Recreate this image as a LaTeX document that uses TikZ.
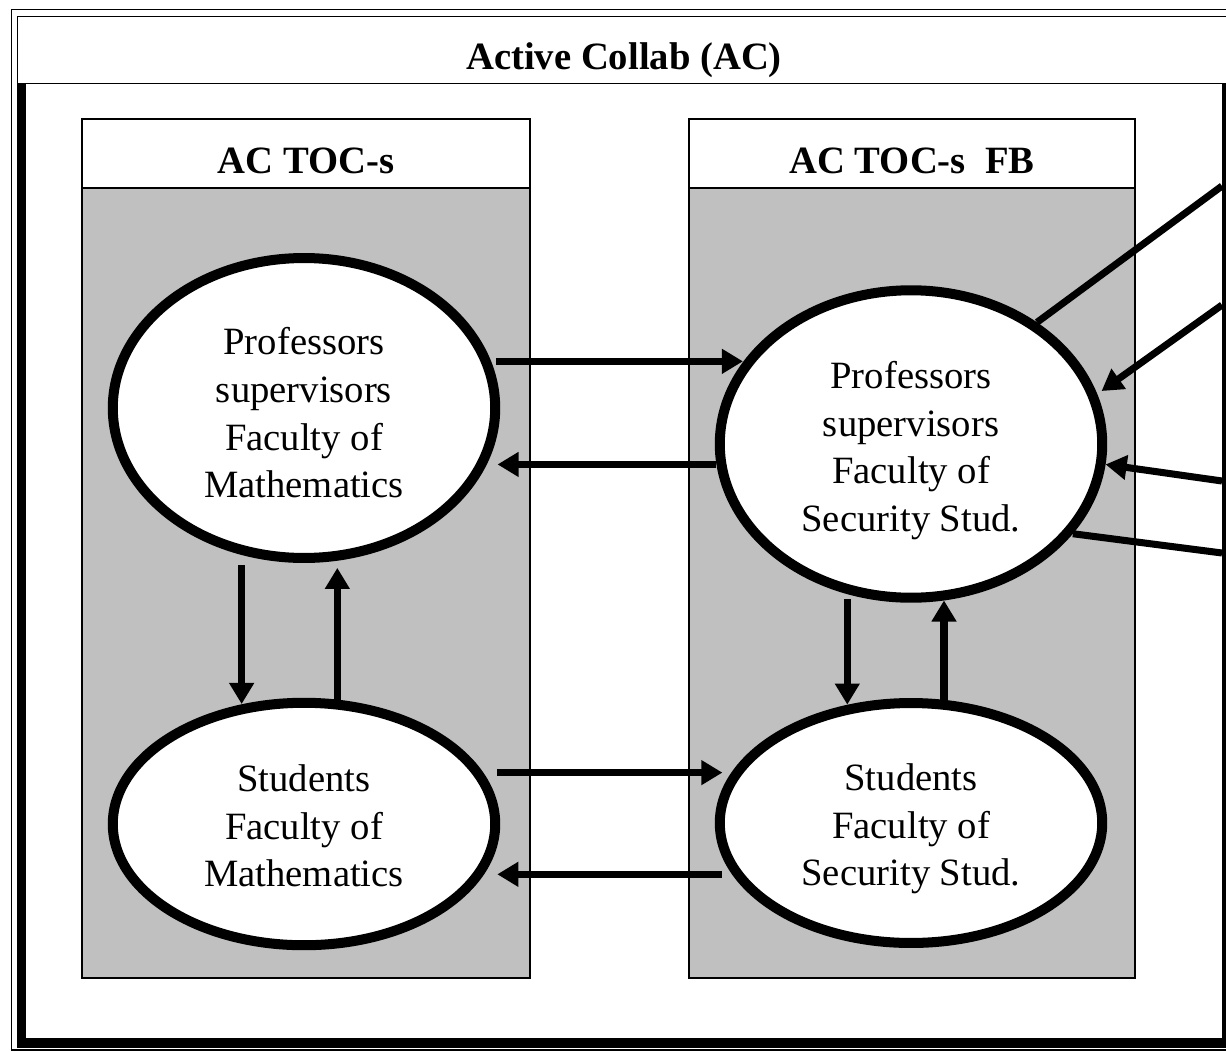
\documentclass[tikz,border=0pt]{standalone}
\usepackage{fontspec}
\setmainfont{Liberation Serif}
\usetikzlibrary{shapes.geometric,arrows.meta}
\definecolor{panelgrey}{RGB}{192,192,192}
\newcommand\lift[1]{\rule{0pt}{#1}}

\begin{document}
\begin{tikzpicture}[x=0.02cm,y=-0.02cm,
    thinline/.style={line width=0.8pt},
    panel/.style={draw,thinline,fill=panelgrey},
    header/.style={draw,thinline,fill=white},
    headtext/.style={anchor=base,font=\fontsize{22}{26}\selectfont\bfseries},
    party/.style={ellipse,draw,line width=5.7pt,fill=white,inner sep=0pt,
      minimum width=7.65cm,align=center,font=\fontsize{22}{27.2}\selectfont},
    arr/.style={line width=4.2pt,-{Triangle[length=12pt,width=13.5pt]}},
    link/.style={line width=4pt}]
  \clip (0,0) rectangle (1226,1051);
  \draw[thinline] (11.5,9.5) rectangle (1240,1050);
  \draw[thinline] (17.5,16.5) rectangle (1240,83.5);
  \node[headtext] (title) at (624,70) {Active Collab (AC)};

  \draw[panel] (82,119) rectangle (530,978);
  \draw[header] (82,119) rectangle (530,188);
  \node[headtext] (lhead) at (306,173) {AC TOC-s};
  \draw[panel] (689,119) rectangle (1135,978);
  \draw[header] (689,119) rectangle (1135,188);
  \node[headtext] (rhead) at (912,173) {AC TOC-s\ \ FB};

  \node[party,minimum height=6cm] (lp) at (304,408) {\lift{21pt}Professors\\supervisors\\Faculty of\\Mathematics};
  \node[party,minimum height=4.85cm] (ls) at (304,824) {\lift{17.5pt}Students\\Faculty of\\Mathematics};
  \node[party,minimum height=6.15cm] (rp) at (911,444) {\lift{23pt}Professors\\supervisors\\Faculty of\\Security Stud.};
  \node[party,minimum height=4.8cm] (rs) at (911,823) {\lift{22pt}Students\\Faculty of\\Security Stud.};

  \draw[arr,shorten <=3pt] (lp.14) -- (lp.14 -| rp.154);
  \draw[arr,shorten >=6pt] (rp.186) -- (rp.186 -| lp.-17);
  \draw[arr,shorten <=8pt,shorten >=5.5pt] (ls.16) -- (ls.16 -| rs.164);
  \draw[arr,shorten <=6pt,shorten >=8pt] (rs.196) -- (rs.196 -| ls.-16);
  \draw[arr,shorten <=6pt] (lp.-113) -- (lp.-113 |- ls.117);
  \draw[arr,shorten >=4pt] (ls.75) -- (ls.75 |- lp.-78);
  \draw[arr,shorten <=3pt] (rp.-113) -- (rp.-113 |- rs.118);
  \draw[arr] (rs.75) -- (rs.75 |- rp.-78);

  \coordinate (e1) at (1222,186);
  \coordinate (e2) at (1222,305);
  \coordinate (e3) at (1222,481);
  \coordinate (e4) at (1222,553);
  \draw[link] (rp.44) -- (e1);
  \draw[arr,line width=4pt,shorten >=3pt] (e2) -- (rp.15);
  \draw[arr,line width=4pt] (e3) -- (rp.-6);
  \draw[link] (rp.-29) -- (e4);

  \fill (17,84) rectangle (26,1048);
  \fill (17,1038) rectangle (1231,1048);
  \fill (1222,84) rectangle (1231,1048);
\end{tikzpicture}
\end{document}
